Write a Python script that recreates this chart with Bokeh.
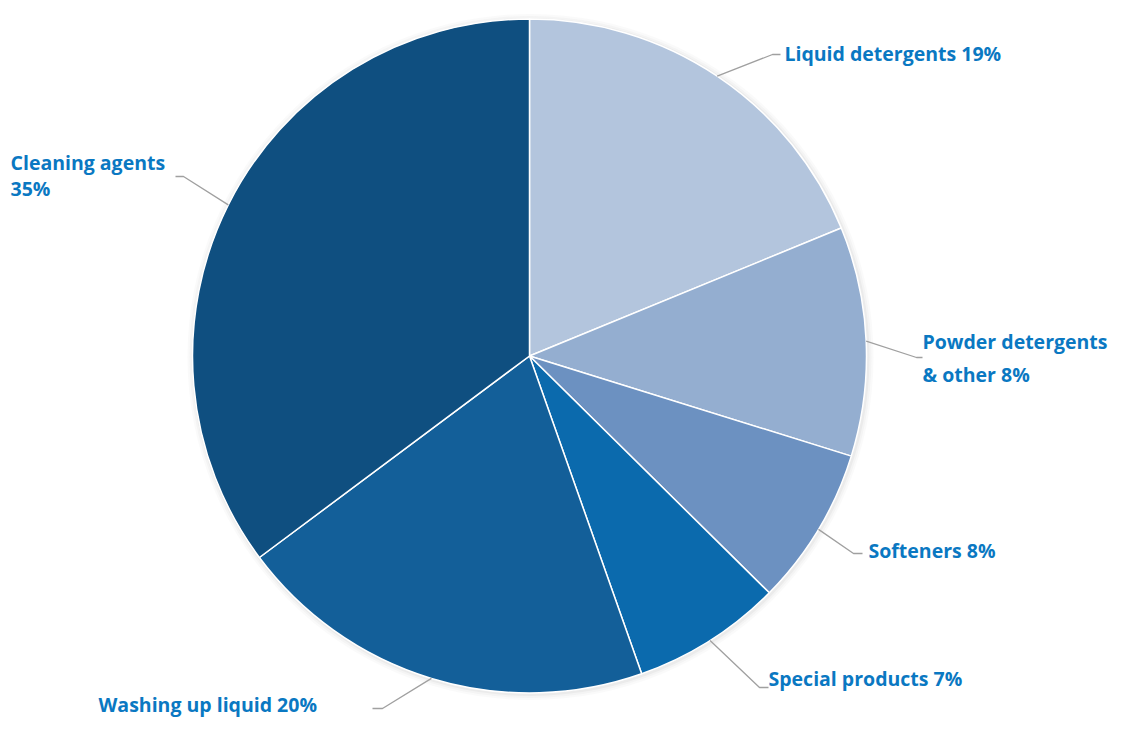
import math
from bokeh.plotting import figure
from bokeh.models import Range1d
from bokeh.core.properties import value
from bokeh.embed import file_html
from bokeh.resources import INLINE

# ---- data ----
labels = ["Liquid detergents 19%", "Powder detergents\n& other 8%", "Softeners 8%",
          "Special products 7%", "Washing up liquid 20%", "Cleaning agents\n35%"]
shares = [18.8, 11.0, 7.6, 7.2, 20.2, 35.2]
colors = ["#b3c5dd", "#94aed0", "#6c91c1", "#0b6aad", "#135f99", "#0f4f80"]

# ---- layout (screen coords) ----
FW, FH = 1108, 721
CX, CY, R = 529, 355.5, 337
# label anchor: (elbow x, elbow y, line end x, text x, text y)
label_layout = [
    (772, 54, 780, 784, 53),
    (916, 357, 922, 922, 357),
    (853, 553, 862, 868, 550),
    (759, 687, 768, 768, 678),
    (382, 708, 372, 98, 704),
    (183, 176, 175, 10, 175),
]
FONT_SIZE = "19.5px"
TEXT_COLOR = "#0a78c2"

def sy(y):
    return FH - y

p = figure(width=FW, height=FH, output_backend="svg", toolbar_location=None,
           x_range=Range1d(0, FW), y_range=Range1d(0, FH), min_border=0)
p.axis.visible = False
p.grid.visible = False
p.outline_line_color = None
p.background_fill_color = "white"

# soft shadow
for k, a in [(6, 0.04), (4, 0.05), (2, 0.07)]:
    p.circle(x=[CX + 1], y=[sy(CY) - 1], radius=R + k, fill_color="#808080",
             fill_alpha=a, line_color=None)

total = sum(shares)
cum = 0.0
starts, ends, mids = [], [], []
for s in shares:
    a0 = cum / total
    cum += s
    a1 = cum / total
    starts.append(math.pi / 2 - a0 * 2 * math.pi)
    ends.append(math.pi / 2 - a1 * 2 * math.pi)
    mids.append((a0 + a1) / 2)

p.wedge(x=CX, y=sy(CY), radius=R, start_angle=starts, end_angle=ends, direction="clock",
        fill_color=colors, line_color="white", line_width=1.5)

# leader lines and labels
for i, lab in enumerate(labels):
    ang = mids[i] * 2 * math.pi
    x0 = CX + R * math.sin(ang)
    y0 = CY - R * math.cos(ang)
    ex, ey, lx, tx, ty = label_layout[i]
    p.line(x=[x0, ex, lx], y=[sy(y0), sy(ey), sy(ey)], line_color="#a0a0a0", line_width=1.3)
    lines = lab.split("\n")
    gap = 33 if i == 1 else 26
    ty0 = ty - gap / 2 * (len(lines) - 1)
    for j, t in enumerate(lines):
        p.text(x=[tx], y=[sy(ty0 + j * gap)], text=[t],
               text_font=value("Open Sans"), text_font_style="bold",
               text_font_size=FONT_SIZE, text_color=TEXT_COLOR,
               text_align="left", text_baseline="middle")

open("out.html", "w").write(file_html(p, INLINE))
